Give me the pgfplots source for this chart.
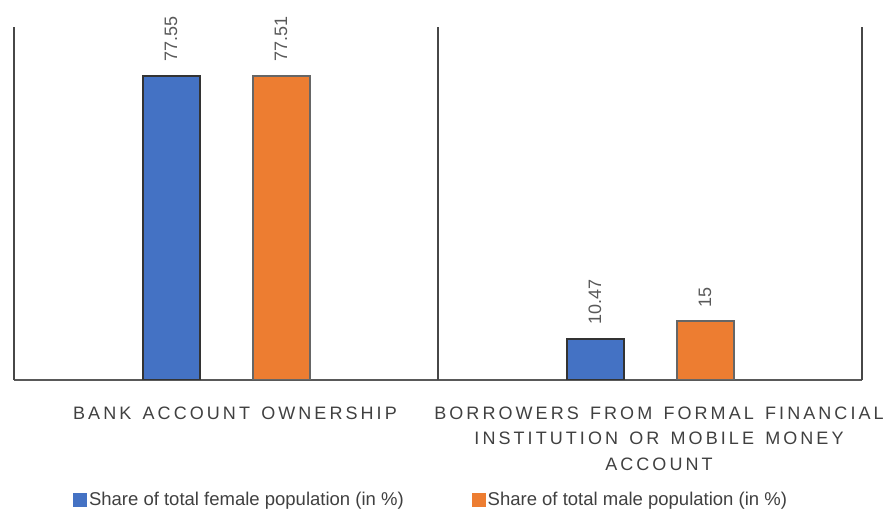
\documentclass[border=0pt]{standalone}
\usepackage{fontspec}
\setmainfont{Liberation Sans}
\newfontfamily\spaced[LetterSpace=17,WordSpace=1.4]{Liberation Sans}
\usepackage{pgfplots}
\pgfplotsset{compat=1.18}
\definecolor{cblue}{HTML}{4472C4}
\definecolor{corange}{HTML}{ED7D31}
\begin{document}
\begin{tikzpicture}
\begin{axis}[
  scale only axis, width=848pt, height=353pt,
  xmin=-0.5, xmax=1.5, ymin=0, ymax=90,
  ybar=53pt, bar width=57pt,
  axis x line*=bottom, axis y line=none,
  x axis line style={draw=black!65, line width=1.6pt, -},
  xtick={0,1},
  xticklabels={{BANK ACCOUNT OWNERSHIP},{BORROWERS FROM FORMAL FINANCIAL\\INSTITUTION OR MOBILE MONEY\\ACCOUNT}},
  xticklabel style={align=center, font=\spaced\fontsize{18}{25.5}\selectfont, text=black!75, yshift=-23pt, xshift=9pt},
  major tick length=0pt,
  extra x ticks={-0.5,0.5,1.5}, extra x tick labels={},
  extra x tick style={grid=major, major grid style={draw=black!72, line width=1.6pt}, xticklabel style={xshift=0pt}},
  /pgf/number format/assume math mode=true,
  nodes near coords,
  nodes near coords style={rotate=90, anchor=west, inner xsep=13pt, inner ysep=0pt, font=\fontsize{18}{18}\selectfont, text=black!65},
  legend style={at={(0.5,0)}, anchor=north, yshift=-108pt, xshift=-7pt, draw=none, legend columns=2, font=\fontsize{18.5}{20}\selectfont, text=black!75, /tikz/every even column/.append style={column sep=66pt}},
]
\addplot[fill=cblue, draw=black!80, line width=2pt, legend image code/.code={\fill[cblue] (-2pt,-6pt) rectangle (10pt,6pt);}] coordinates {(0,77.55) (1,10.47)};
\addlegendentry{Share of total female population (in \%)}
\addplot[fill=corange, draw=black!60, line width=2pt, legend image code/.code={\fill[corange] (-2pt,-6pt) rectangle (10pt,6pt);}] coordinates {(0,77.51) (1,15)};
\addlegendentry{Share of total male population (in \%)}
\coordinate (bl) at (rel axis cs:0,0);
\coordinate (tr) at (rel axis cs:1,1);
\end{axis}
\pgfresetboundingbox
\useasboundingbox ([shift={(-14pt,-131pt)}]bl) rectangle ([shift={(25pt,27pt)}]tr);
\end{tikzpicture}
\end{document}
